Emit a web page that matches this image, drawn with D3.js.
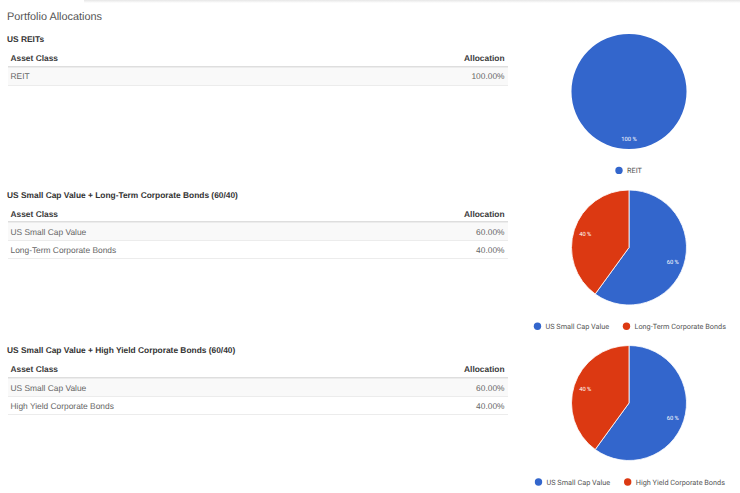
<!DOCTYPE html>
<html><head><meta charset="utf-8">
<script src="https://cdn.jsdelivr.net/npm/d3@7/dist/d3.min.js"></script>
<style>html,body{margin:0;padding:0;background:#fff}svg{display:block;text-rendering:geometricPrecision}</style>
</head><body><div id="c"></div>
<script>
const pageTitle = "Portfolio Allocations";
const tableHeaders = ["Asset Class", "Allocation"];
const portfolioNames = ["US REITs", "US Small Cap Value + Long-Term Corporate Bonds (60/40)", "US Small Cap Value + High Yield Corporate Bonds (60/40)"];
const assets1 = ["REIT"];
const values1 = [100];
const assets2 = ["US Small Cap Value", "Long-Term Corporate Bonds"];
const values2 = [60, 40];
const assets3 = ["US Small Cap Value", "High Yield Corporate Bonds"];
const values3 = [60, 40];
const palette = ["#3366cc", "#dc3912"];

const W = 740, H = 493;
const titleY = [41.5, 197.5, 353];
const headerY = [60.5, 216.5, 372];
const tableY = [67.5, 222.5, 378.5];
const pieY = [91.5, 247.5, 403];
const legendY = [170.4, 326.3, 482];
const legendX = [[615], [533.5, 622.5], [534.5, 623.7]];
const rowTextOffset = [11.5, 12, 12];
const panels = [[assets1, values1], [assets2, values2], [assets3, values3]];
const sans = "'Liberation Sans', Arial, sans-serif";
const chartFont = "Roboto, 'Liberation Sans', sans-serif";

const svg = d3.select("#c").append("svg").attr("width", W).attr("height", H);
const grad = svg.append("defs").append("linearGradient").attr("id", "topShade").attr("x1", 0).attr("x2", 0).attr("y1", 0).attr("y2", 1);
grad.append("stop").attr("offset", 0).attr("stop-color", "#e6e6e6");
grad.append("stop").attr("offset", 1).attr("stop-color", "#ffffff");
svg.append("rect").attr("x", 84).attr("y", 0).attr("width", W - 84).attr("height", 3).attr("fill", "url(#topShade)");

svg.append("text").attr("x", 7).attr("y", 19.5).text(pageTitle)
  .attr("font-family", sans).attr("font-size", 10.9).attr("fill", "#555");

const x = d3.scaleLinear().domain([0, 1]).range([8, 508]);
const radius = 57.5;
const arc = d3.arc().innerRadius(0).outerRadius(radius);
const labelArc = d3.arc().innerRadius(46).outerRadius(46);
const pie = d3.pie().sort(null);

panels.forEach(([assets, values], i) => {
  svg.append("text").attr("x", 7).attr("y", titleY[i]).text(portfolioNames[i])
    .attr("font-family", sans).attr("font-size", 8.4).attr("font-weight", 700)
    .attr("fill", "#333");

  const g = svg.append("g");
  tableHeaders.forEach((h, k) => {
    g.append("text").attr("x", k ? x(1) - 3.5 : x(0) + 2.5).attr("y", headerY[i])
      .attr("text-anchor", k ? "end" : "start").text(h)
      .attr("font-family", sans).attr("font-size", 8.4).attr("font-weight", 700).attr("fill", "#3a3a3a");
  });
  g.append("line").attr("x1", x(0)).attr("x2", x(1)).attr("y1", tableY[i] - 0.5).attr("y2", tableY[i] - 0.5).attr("stroke", "#dedede").attr("stroke-width", 2);

  const y = d3.scaleBand().domain(d3.range(assets.length)).range([tableY[i], tableY[i] + assets.length * 18]);
  assets.forEach((a, k) => {
    if (k % 2 === 0) g.append("rect").attr("x", x(0)).attr("width", x(1) - x(0)).attr("y", y(k)).attr("height", y.bandwidth()).attr("fill", "#f9f9f9");
    g.append("line").attr("x1", x(0)).attr("x2", x(1)).attr("y1", y(k) + y.bandwidth()).attr("y2", y(k) + y.bandwidth()).attr("stroke", "#ececec");
    g.append("text").attr("x", x(0) + 2.5).attr("y", y(k) + rowTextOffset[i]).text(a)
      .attr("font-family", sans).attr("font-size", 8.4).attr("fill", "#666");
    g.append("text").attr("x", x(1) - 3.5).attr("y", y(k) + rowTextOffset[i]).attr("text-anchor", "end").text(d3.format(".2f")(values[k]) + "%")
      .attr("font-family", sans).attr("font-size", 8.4).attr("fill", "#666");
  });

  const pg = svg.append("g").attr("transform", `translate(629,${pieY[i]})`);
  const arcs = pie(values);
  pg.selectAll("path").data(arcs).join("path").attr("d", arc)
    .attr("fill", (d, k) => palette[k])
    .attr("stroke", values.length > 1 ? "#fff" : "none").attr("stroke-width", 0.8);
  pg.selectAll("text").data(arcs).join("text")
    .attr("transform", d => {
      if (values.length === 1) return "translate(0,47.3)";
      const [cx, cy] = labelArc.centroid(d);
      return `translate(${cx},${cy + 0.5})`;
    })
    .attr("text-anchor", "middle").attr("dy", "0.35em")
    .attr("font-family", chartFont).attr("font-size", 5.8).attr("fill", "#fff")
    .text(d => d.data + " %");

  const lg = svg.append("g").attr("transform", `translate(0,${legendY[i]})`);
  assets.forEach((a, k) => {
    lg.append("circle").attr("cx", legendX[i][k] + 4).attr("cy", 0).attr("r", 3.7).attr("fill", palette[k]);
    lg.append("text").attr("x", legendX[i][k] + 12).attr("y", 0).attr("dy", "0.35em").text(a)
      .attr("font-family", chartFont).attr("font-size", 7.3).attr("fill", "#555");
  });
});
</script></body></html>
